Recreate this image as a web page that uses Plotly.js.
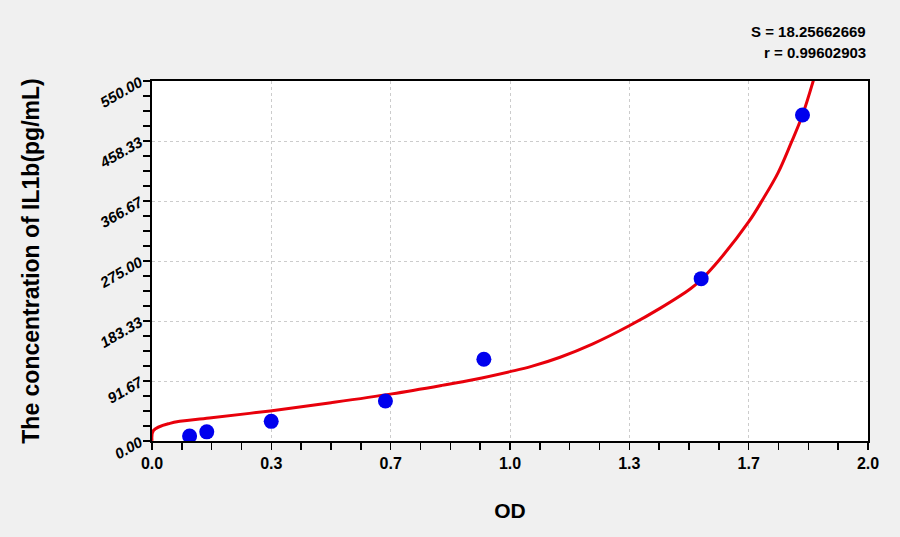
<!DOCTYPE html>
<html>
<head>
<meta charset="utf-8">
<script src="https://cdn.plot.ly/plotly-3.0.1.min.js"></script>
<style>
  body { margin: 0; background: #f0f0f0; }
  #chart { width: 900px; height: 537px; }
</style>
</head>
<body>
<div id="chart"></div>
<script>
// standard points (OD vs concentration)
var odPoints = [0.105, 0.153, 0.333, 0.652, 0.927, 1.534, 1.817];
var concPoints = [7.5, 14, 30, 61, 125, 248, 498];

// fitted curve
var curveOD = [0, 0.004, 0.05, 0.16, 0.33, 0.5, 0.67, 0.81, 0.9, 1.0, 1.06, 1.14, 1.23, 1.333, 1.42, 1.505, 1.533, 1.582, 1.667, 1.705, 1.749, 1.785, 1.817, 1.855];
var curveConc = [0, 16, 27, 35, 46, 58.5, 72, 85, 94, 106, 114, 128, 148, 176, 203, 233, 246, 275, 335, 368, 410, 455, 498, 565];

var xTickVals = [0, 1/3, 2/3, 1, 4/3, 5/3, 2];
var xTickText = ["0.0", "0.3", "0.7", "1.0", "1.3", "1.7", "2.0"];
var yTickVals = [0, 91.67, 183.33, 275, 366.67, 458.33, 550];
var yTickText = ["0.00", "91.67", "183.33", "275.00", "366.67", "458.33", "550.00"];

var curve = {
  x: curveOD, y: curveConc,
  type: "scatter", mode: "lines",
  line: { color: "#e8000b", width: 3, shape: "spline", smoothing: 1 },
  hoverinfo: "skip"
};
var pts = {
  x: odPoints, y: concPoints,
  type: "scatter", mode: "markers",
  marker: { color: "#0000ee", size: 15 }
};

var layout = {
  width: 900, height: 537,
  margin: { l: 152, r: 32, t: 81, b: 96 },
  paper_bgcolor: "#f0f0f0",
  plot_bgcolor: "white",
  showlegend: false,
  font: { family: "Arial, Liberation Sans", color: "black" },
  xaxis: {
    range: [0, 2], tickvals: xTickVals, ticktext: xTickText,
    ticks: "outside", ticklen: 7, tickwidth: 1.5, tickcolor: "black",
    tickfont: { size: 16, weight: "bold" },
    showline: true, linecolor: "black", linewidth: 2, mirror: true,
    showgrid: true, gridcolor: "#cccccc", griddash: "dot", gridwidth: 1,
    zeroline: false,
    minor: { dtick: 1/12, tick0: 0, ticks: "outside", ticklen: 7, tickwidth: 1.5, tickcolor: "black", showgrid: false },
    title: { text: "OD", font: { size: 21, weight: "bold" }, standoff: 32 }
  },
  yaxis: {
    range: [0, 550], tickvals: yTickVals, ticktext: yTickText,
    ticks: "outside", ticklen: 7, tickwidth: 1.5, tickcolor: "black",
    tickangle: -30,
    tickfont: { size: 15, weight: "bold", style: "italic" },
    showline: true, linecolor: "black", linewidth: 2, mirror: true,
    showgrid: true, gridcolor: "#cccccc", griddash: "dot", gridwidth: 1,
    zeroline: false,
    minor: { dtick: 550/24, tick0: 0, ticks: "outside", ticklen: 7, tickwidth: 1.5, tickcolor: "black", showgrid: false },
    title: { text: "The concentration of IL1b(pg/mL)", font: { size: 23, weight: "bold" }, standoff: 50 }
  },
  annotations: [
    { text: "S = 18.25662669", xref: "paper", yref: "paper", x: 1, y: 1, xanchor: "right", yanchor: "middle",
      yshift: 50, showarrow: false, font: { size: 15, weight: "bold" } },
    { text: "r = 0.99602903", xref: "paper", yref: "paper", x: 1, y: 1, xanchor: "right", yanchor: "middle",
      yshift: 29, showarrow: false, font: { size: 15, weight: "bold" } }
  ]
};

Plotly.newPlot("chart", [curve, pts], layout, { displayModeBar: false, staticPlot: true });
</script>
</body>
</html>
